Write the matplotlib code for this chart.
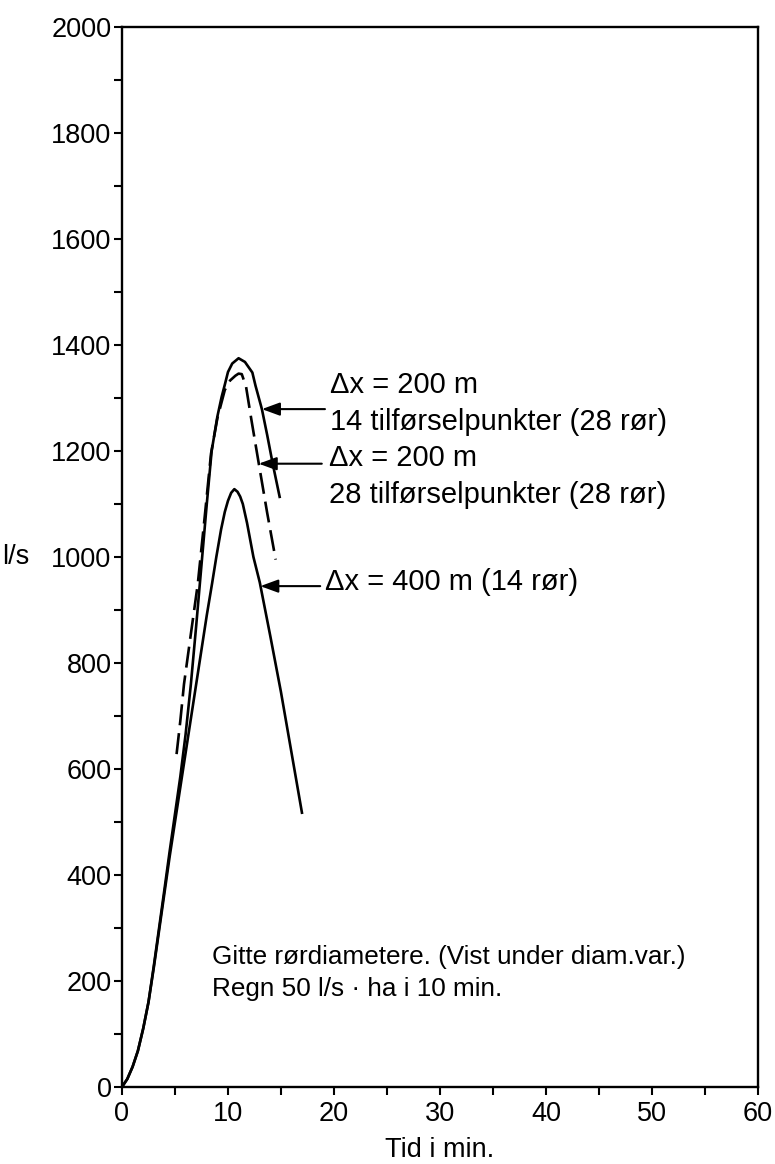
import matplotlib
matplotlib.use("Agg")
import matplotlib.pyplot as plt
from matplotlib.ticker import MultipleLocator

plt.rcParams['font.family'] = ['Liberation Sans', 'DejaVu Sans']

# Δx = 200 m, 14 tilførselpunkter (28 rør) - solid, highest peak
t_200_14 = [0, 0.5, 1, 1.5, 2, 2.5, 3, 3.5, 4, 4.5, 5, 5.5, 6, 6.5, 7, 7.5, 8, 8.46,
            9.0, 9.4, 9.7, 10.0, 10.4, 11.0, 11.6, 12.3, 12.6, 13.2, 13.7, 14.2, 14.9]
q_200_14 = [0, 15, 38, 68, 110, 160, 228, 300, 372, 445, 515, 585, 665, 760, 870, 985, 1100, 1200,
            1265, 1302, 1325, 1349, 1365, 1375, 1368, 1348, 1323, 1279, 1230, 1178, 1111]

# Δx = 200 m, 28 tilførselpunkter (28 rør) - dashed
t_200_28 = [5.15, 5.5, 5.85, 6.5, 7.15, 7.8, 8.4, 9.0, 9.7, 10.2, 10.7, 11.0, 11.3,
            11.7, 12.2, 12.95, 13.7, 14.5]
q_200_28 = [628, 690, 760, 855, 949, 1075, 1195, 1262, 1315, 1333, 1342, 1346, 1345,
            1322, 1260, 1171, 1083, 995]

# Δx = 400 m (14 rør) - solid, lower peak
t_400 = [0, 0.5, 1, 1.5, 2, 2.5, 3, 3.5, 4, 4.5, 5, 5.5, 6, 6.5, 7, 7.5, 8, 8.5, 8.9,
         9.35, 9.7, 10.0, 10.3, 10.6, 10.9, 11.15, 11.4, 11.8, 12.4, 13, 14, 15, 16, 17]
q_400 = [0, 15, 38, 68, 110, 160, 225, 295, 365, 435, 500, 565, 630, 695, 760, 825, 890, 950, 1000,
         1052, 1085, 1106, 1121, 1128, 1123, 1114, 1100, 1064, 1000, 952, 850, 745, 630, 515]

# labels and where their arrows touch the curves
labels = ["Δx = 200 m\n14 tilførselpunkter (28 rør)",
          "Δx = 200 m\n28 tilførselpunkter (28 rør)",
          "Δx = 400 m (14 rør)"]
arrow_tips = [(13.2, 1279), (12.9, 1176), (13.05, 945)]
note_lines = ["Gitte rørdiametere. (Vist under diam.var.)",
              "Regn 50 l/s · ha i 10 min."]

fig = plt.figure(figsize=(7.75, 11.64), dpi=100)
ax = fig.add_axes([0.1574, 0.0662, 0.8206, 0.9106])

ax.plot(t_200_14, q_200_14, color='black', lw=1.9, solid_capstyle='butt')
ax.plot(t_400, q_400, color='black', lw=1.9, solid_capstyle='butt')
ax.plot(t_200_28, q_200_28, color='black', lw=1.9, dashes=(8, 3), dash_capstyle='butt')

ax.set_xlim(0, 60)
ax.set_ylim(0, 2000)
ax.xaxis.set_major_locator(MultipleLocator(10))
ax.xaxis.set_minor_locator(MultipleLocator(5))
ax.yaxis.set_major_locator(MultipleLocator(200))
ax.yaxis.set_minor_locator(MultipleLocator(100))

for s in ax.spines.values():
    s.set_linewidth(1.7)
ax.tick_params(which='both', direction='out', length=6, width=1.5,
               top=False, right=False, labelsize=19.5)
ax.tick_params(axis='y', which='major', pad=1.5)
ax.tick_params(axis='x', which='major', pad=4)

ax.set_xlabel("Tid i min.", fontsize=19.5, labelpad=7)
ax.text(-0.188, 1000, "l/s", transform=ax.get_yaxis_transform(),
        fontsize=19.5, ha='left', va='center')

# curve labels with arrows
text_pos = [(19.6, 1290), (19.5, 1152), (19.2, 953)]
for lab, (tx, ty) in zip(labels, text_pos):
    ax.text(tx, ty, lab, fontsize=21, ha='left', va='center', linespacing=1.42)

tails = [19.15, 18.85, 18.7]
for (x, y), tail in zip(arrow_tips, tails):
    ax.annotate("", xy=(x, y), xytext=(tail, y),
                arrowprops=dict(arrowstyle="-|>,head_length=0.6,head_width=0.22",
                                mutation_scale=18, lw=1.5, color='black',
                                shrinkA=0, shrinkB=0))

ax.text(8.5, 215, "\n".join(note_lines), fontsize=18.8, ha='left', va='center',
        linespacing=1.45)

fig.savefig("out.png", dpi=100)
